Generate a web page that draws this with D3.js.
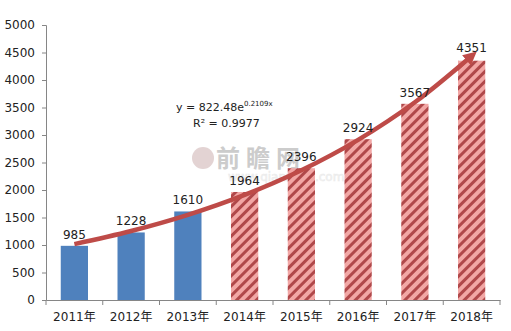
<!DOCTYPE html>
<html><head><meta charset="utf-8">
<script src="https://cdn.jsdelivr.net/npm/d3@7"></script>
<style>body{margin:0;background:#fff}svg{display:block}text{font-family:"DejaVu Sans","Noto Sans CJK SC",sans-serif}</style>
</head><body><svg id="c" width="511" height="331"></svg>
<script>
const categories = ["2011年","2012年","2013年","2014年","2015年","2016年","2017年","2018年"];
const values = [985,1228,1610,1964,2396,2924,3567,4351];
const forecast = [false,false,false,true,true,true,true,true];
const trendValues = [1016,1254,1548,1911,2359,2912,3595,4437];
const yTicks = [0,500,1000,1500,2000,2500,3000,3500,4000,4500,5000];
const equation = ["y = 822.48e","0.2109x"];
const rSquared = "R² = 0.9977";

const svg = d3.select("#c");
const x = d3.scaleBand().domain(categories).range([46,500]).paddingInner(0.52).paddingOuter(0.26);
const xb = d3.scaleBand().domain(categories).range([46,500]);
const y = d3.scaleLinear().domain([0,5000]).range([300,25]);

const defs = svg.append("defs");
const pat = defs.append("pattern").attr("id","hatch").attr("patternUnits","userSpaceOnUse")
  .attr("width",7).attr("height",7).attr("patternTransform","rotate(45)");
pat.append("rect").attr("width",7).attr("height",7).attr("fill","#F2A7A5");
pat.append("rect").attr("width",3).attr("height",7).attr("fill","#B0484A");
const mk = defs.append("marker").attr("id","arr").attr("viewBox","0 0 10 10").attr("refX",5).attr("refY",5)
  .attr("markerWidth",3).attr("markerHeight",3).attr("orient","auto").attr("markerUnits","strokeWidth");
mk.append("path").attr("d","M0,0 L10,5 L0,10 Z").attr("fill","#BE4B48");

// y axis
const ya = svg.append("g").attr("transform","translate(46,0)")
  .call(d3.axisLeft(y).tickValues(yTicks).tickSize(4).tickPadding(7).tickFormat(d3.format("d")));
ya.select(".domain").attr("stroke","#868686");
ya.selectAll(".tick line").attr("stroke","#868686");
ya.selectAll("text").attr("font-size",12).attr("fill","#222");

// watermark
const wm = svg.append("g").attr("opacity",0.5);
wm.append("circle").attr("cx",203).attr("cy",158).attr("r",11).attr("fill","#c8a8a8");
wm.append("text").attr("x",216).attr("y",167).attr("font-size",24).attr("font-weight","bold").attr("fill","#9a9a9a")
  .attr("letter-spacing",6).text("前瞻网");
wm.append("text").attr("x",228).attr("y",181).attr("font-size",12).attr("fill","#e8e8e8")
  .attr("stroke","#d4d4d4").attr("stroke-width",0.5).text("www.qianzhan.com");

// bars
svg.selectAll("rect.bar").data(values).join("rect").attr("class","bar")
  .attr("x",(d,i)=>x(categories[i])).attr("width",x.bandwidth())
  .attr("y",d=>y(d)).attr("height",d=>300-y(d))
  .attr("fill",(d,i)=>forecast[i]?"url(#hatch)":"#4F81BD");

// x axis
const xa = svg.append("g").attr("transform","translate(0,300)")
  .call(d3.axisBottom(xb).tickSize(0).tickPadding(12));
xa.select(".domain").attr("stroke","#868686");
xa.selectAll("text").attr("font-size",12).attr("fill","#222");
svg.append("g").selectAll("line").data(d3.range(0,9)).join("line")
  .attr("x1",i=>46+xb.step()*i).attr("x2",i=>46+xb.step()*i).attr("y1",300).attr("y2",305).attr("stroke","#868686");

// trend line
const line = d3.line().x((d,i)=>xb(categories[i])+xb.bandwidth()/2).y(d=>y(d)).curve(d3.curveCatmullRom);
svg.append("path").datum(trendValues).attr("d",line).attr("fill","none").attr("stroke","#BE4B48")
  .attr("stroke-width",4.5).attr("marker-end","url(#arr)");

// labels
svg.selectAll("text.lbl").data(values).join("text").attr("class","lbl")
  .attr("x",(d,i)=>xb(categories[i])+xb.bandwidth()/2).attr("y",(d,i)=>y(d)-(i===7?9:7))
  .attr("text-anchor","middle").attr("font-size",12).attr("fill","#222").text(d=>d);

// equation
const eq = svg.append("text").attr("x",176).attr("y",111).attr("font-size",11).attr("fill","#222");
eq.append("tspan").text(equation[0]);
eq.append("tspan").attr("dy",-5).attr("font-size",7).text(equation[1]);
svg.append("text").attr("x",193).attr("y",127).attr("font-size",11).attr("fill","#222").text(rSquared);
</script></body></html>
